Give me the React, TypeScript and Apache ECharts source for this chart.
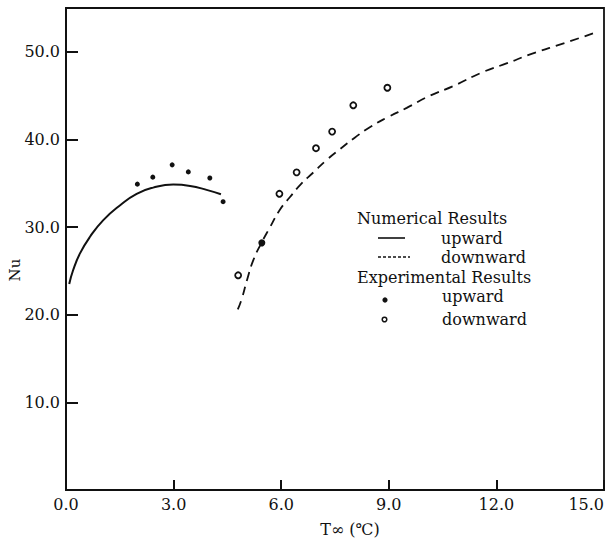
import React, { useEffect, useRef } from "react";
import * as echarts from "echarts";

// Numerical results (lines)
const upwardNumX = [0.09, 0.2, 0.39, 0.67, 1.04, 1.51, 1.97, 2.43, 2.99, 3.46, 3.92, 4.32];
const upwardNumNu = [23.5, 25.1, 27.0, 28.9, 30.8, 32.5, 33.8, 34.5, 34.85, 34.7, 34.25, 33.75];

const downwardNumX = [4.79, 4.9, 5.05, 5.22, 5.45, 5.69, 5.95, 6.24, 6.55, 6.9, 7.25, 7.64, 8.05, 8.47, 9.0, 9.5, 10.1, 10.8, 11.63, 12.3, 12.94, 13.9, 14.84];
const downwardNumNu = [20.6, 21.8, 24.0, 26.2, 28.2, 30.0, 31.9, 33.4, 34.9, 36.25, 37.6, 38.9, 40.2, 41.4, 42.6, 43.6, 44.9, 46.1, 47.7, 48.7, 49.7, 51.0, 52.3];

// Experimental results (points)
const upwardExpX = [1.99, 2.42, 2.96, 3.41, 4.01, 4.38, 5.46];
const upwardExpNu = [34.9, 35.7, 37.1, 36.3, 35.6, 32.9, 28.2];

const downwardExpX = [4.8, 5.95, 6.43, 6.97, 7.42, 8.01, 8.96];
const downwardExpNu = [24.5, 33.8, 36.25, 39.0, 40.9, 43.9, 45.9];

const xTicks = [0, 3, 6, 9, 12, 15];
const yTicks = [10, 20, 30, 40, 50];

const FONT = "DejaVu Serif";
const INK = "#111";

export default function App() {
  const ref = useRef<HTMLDivElement>(null);

  useEffect(() => {
    if (!ref.current) return;
    const chart = echarts.init(ref.current, null, { renderer: "svg" });
    const zip = (xs: number[], ys: number[]) => xs.map((x, i) => [x, ys[i]]);

    const option: any = {
      animation: false,
      backgroundColor: "#fff",
      grid: {
        left: 66,
        right: 4,
        top: 8,
        bottom: 51,
        show: true,
        borderColor: INK,
        borderWidth: 1.8,
      },
      xAxis: {
        type: "value",
        min: 0,
        max: 15,
        interval: 3,
        axisLine: { show: true, onZero: false, lineStyle: { color: INK, width: 2 } },
        axisTick: { show: true, inside: true, length: 10, lineStyle: { color: INK, width: 2 } },
        axisLabel: {
          color: INK,
          fontFamily: FONT,
          fontSize: 16,
          margin: 6,
          alignMaxLabel: "right",
          formatter: (v: number) => (xTicks.includes(v) ? v.toFixed(1) : ""),
        },
        splitLine: { show: false },
      },
      yAxis: {
        type: "value",
        min: 0,
        max: 55,
        interval: 10,
        axisLine: { show: true, onZero: false, lineStyle: { color: INK, width: 2 } },
        axisTick: { show: true, inside: true, length: 12, lineStyle: { color: INK, width: 2 } },
        axisLabel: {
          color: INK,
          fontFamily: FONT,
          fontSize: 16,
          margin: 6,
          showMaxLabel: false,
          formatter: (v: number) => (yTicks.includes(v) ? v.toFixed(1) : ""),
        },
        splitLine: { show: false },
      },
      series: [
        {
          name: "upward (numerical)",
          type: "line",
          data: zip(upwardNumX, upwardNumNu),
          smooth: true,
          showSymbol: false,
          symbol: "none",
          lineStyle: { color: INK, width: 2, type: "solid" },
        },
        {
          name: "downward (numerical)",
          type: "line",
          data: zip(downwardNumX, downwardNumNu),
          smooth: true,
          showSymbol: false,
          symbol: "none",
          lineStyle: { color: INK, width: 1.8, type: [9, 6] },
        },
        {
          name: "upward (experimental)",
          type: "scatter",
          data: zip(upwardExpX, upwardExpNu).map((v, i) =>
            i === upwardExpX.length - 1 ? { value: v, symbolSize: 7 } : { value: v }
          ),
          symbol: "circle",
          symbolSize: 5,
          itemStyle: { color: INK, opacity: 1 },
        },
        {
          name: "downward (experimental)",
          type: "scatter",
          data: zip(downwardExpX, downwardExpNu),
          symbol: "circle",
          symbolSize: 6,
          itemStyle: { color: "#fff", borderColor: INK, borderWidth: 1.8, opacity: 1 },
        },
      ],
      graphic: [
        {
          type: "text",
          rotation: Math.PI / 2,
          x: 15,
          y: 270,
          style: {
            text: "Nu",
            font: `15px "${FONT}"`,
            fill: INK,
            textAlign: "center",
            textVerticalAlign: "middle",
          },
        },
        {
          type: "text",
          x: 350,
          y: 529,
          style: {
            text: "T∞ (℃)",
            font: `16px "${FONT}"`,
            fill: INK,
            textAlign: "center",
            textVerticalAlign: "middle",
          },
        },
        {
          type: "text",
          x: 357,
          y: 218,
          style: { text: "Numerical Results", font: `16px "${FONT}"`, fill: INK, textVerticalAlign: "middle" },
        },
        {
          type: "line",
          shape: { x1: 378, y1: 238, x2: 405, y2: 238 },
          style: { stroke: INK, lineWidth: 1.6 },
        },
        {
          type: "text",
          x: 441,
          y: 238,
          style: { text: "upward", font: `16px "${FONT}"`, fill: INK, textVerticalAlign: "middle" },
        },
        {
          type: "line",
          shape: { x1: 378, y1: 257, x2: 410, y2: 257 },
          style: { stroke: INK, lineWidth: 1.4, lineDash: [3, 2] },
        },
        {
          type: "text",
          x: 441,
          y: 257,
          style: { text: "downward", font: `16px "${FONT}"`, fill: INK, textVerticalAlign: "middle" },
        },
        {
          type: "text",
          x: 357,
          y: 277,
          style: { text: "Experimental Results", font: `16px "${FONT}"`, fill: INK, textVerticalAlign: "middle" },
        },
        {
          type: "circle",
          shape: { cx: 385, cy: 300, r: 2.6 },
          style: { fill: INK },
        },
        {
          type: "text",
          x: 442,
          y: 296,
          style: { text: "upward", font: `16px "${FONT}"`, fill: INK, textVerticalAlign: "middle" },
        },
        {
          type: "circle",
          shape: { cx: 384.5, cy: 319.5, r: 2.3 },
          style: { fill: "#fff", stroke: INK, lineWidth: 1.5 },
        },
        {
          type: "text",
          x: 442,
          y: 319.5,
          style: { text: "downward", font: `16px "${FONT}"`, fill: INK, textVerticalAlign: "middle" },
        },
      ],
    };

    chart.setOption(option);
    return () => chart.dispose();
  }, []);

  return <div ref={ref} style={{ width: 608, height: 541, position: "absolute", left: 0, top: 0 }} />;
}
